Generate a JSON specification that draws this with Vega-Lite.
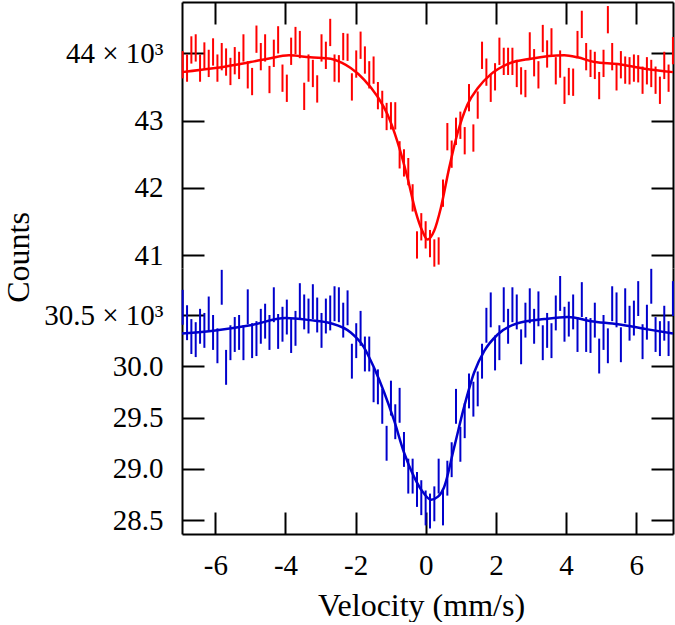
{
  "$schema": "https://vega.github.io/schema/vega-lite/v6.json",
  "background": "white",
  "padding": {"left": 2, "top": 1, "right": 1, "bottom": 1},
  "bounds": "flush",
  "spacing": 0,
  "config": {
    "font": "Liberation Serif",
    "view": {"stroke": null},
    "axis": {
      "domainColor": "black", "domainWidth": 2, "tickColor": "black", "tickWidth": 2, "tickSize": -22,
      "labelColor": "black", "labelFontSize": 29, "labelFont": "Liberation Serif",
      "titleFontSize": 32, "titleColor": "black", "titleFontWeight": "normal", "titleFont": "Liberation Serif",
      "grid": false
    }
  },
  "datasets": {
    "red": [
      {"v":-6.930,"c":43830,"e":203},{"v":-6.806,"c":43780,"e":203},{"v":-6.683,"c":44050,"e":203},{"v":-6.559,"c":44080,"e":203},{"v":-6.435,"c":43780,"e":203},{"v":-6.312,"c":43960,"e":203},{"v":-6.188,"c":43850,"e":203},{"v":-6.064,"c":44020,"e":203},{"v":-5.940,"c":43780,"e":203},{"v":-5.817,"c":43950,"e":203},
      {"v":-5.693,"c":43870,"e":203},{"v":-5.569,"c":43730,"e":203},{"v":-5.446,"c":43890,"e":203},{"v":-5.322,"c":43820,"e":203},{"v":-5.198,"c":44080,"e":203},{"v":-5.075,"c":43680,"e":203},{"v":-4.951,"c":43580,"e":203},{"v":-4.827,"c":44210,"e":203},{"v":-4.703,"c":43950,"e":203},{"v":-4.580,"c":44080,"e":203},
      {"v":-4.456,"c":43610,"e":203},{"v":-4.332,"c":44000,"e":203},{"v":-4.209,"c":44200,"e":203},{"v":-4.085,"c":43630,"e":203},{"v":-3.961,"c":43480,"e":203},{"v":-3.838,"c":44030,"e":203},{"v":-3.714,"c":44190,"e":203},{"v":-3.590,"c":44130,"e":203},{"v":-3.466,"c":43360,"e":203},{"v":-3.343,"c":43780,"e":203},
      {"v":-3.219,"c":43700,"e":203},{"v":-3.095,"c":43470,"e":203},{"v":-2.972,"c":44080,"e":203},{"v":-2.848,"c":43970,"e":203},{"v":-2.724,"c":44310,"e":203},{"v":-2.601,"c":43780,"e":203},{"v":-2.477,"c":43770,"e":203},{"v":-2.353,"c":44100,"e":203},{"v":-2.229,"c":44090,"e":203},{"v":-2.106,"c":43500,"e":203},
      {"v":-1.982,"c":43840,"e":203},{"v":-1.858,"c":44120,"e":203},{"v":-1.735,"c":43900,"e":203},{"v":-1.611,"c":43680,"e":203},{"v":-1.487,"c":43750,"e":203},{"v":-1.364,"c":43370,"e":203},{"v":-1.240,"c":43240,"e":203},{"v":-1.116,"c":43060,"e":203},{"v":-0.992,"c":43070,"e":203},{"v":-0.869,"c":43070,"e":203},
      {"v":-0.745,"c":42490,"e":203},{"v":-0.621,"c":42370,"e":203},{"v":-0.498,"c":42240,"e":203},{"v":-0.374,"c":41850,"e":203},{"v":-0.250,"c":41150,"e":203},{"v":-0.127,"c":41420,"e":203},{"v":-0.003,"c":41300,"e":203},{"v":0.121,"c":41170,"e":203},{"v":0.245,"c":41030,"e":203},{"v":0.368,"c":41060,"e":203},
      {"v":0.492,"c":41920,"e":203},{"v":0.616,"c":42760,"e":203},{"v":0.739,"c":42500,"e":203},{"v":0.863,"c":42840,"e":203},{"v":0.987,"c":42930,"e":203},{"v":1.111,"c":42700,"e":203},{"v":1.234,"c":43340,"e":203},{"v":1.358,"c":42740,"e":203},{"v":1.482,"c":43230,"e":203},{"v":1.605,"c":43970,"e":203},
      {"v":1.729,"c":43720,"e":203},{"v":1.853,"c":43480,"e":203},{"v":1.976,"c":43650,"e":203},{"v":2.100,"c":44030,"e":203},{"v":2.224,"c":43880,"e":203},{"v":2.348,"c":43880,"e":203},{"v":2.471,"c":43880,"e":203},{"v":2.595,"c":43700,"e":203},{"v":2.719,"c":43590,"e":203},{"v":2.842,"c":43550,"e":203},
      {"v":2.966,"c":44110,"e":203},{"v":3.090,"c":43860,"e":203},{"v":3.213,"c":43680,"e":203},{"v":3.337,"c":44220,"e":203},{"v":3.461,"c":43990,"e":203},{"v":3.585,"c":44170,"e":203},{"v":3.708,"c":43740,"e":203},{"v":3.832,"c":43840,"e":203},{"v":3.956,"c":43450,"e":203},{"v":4.079,"c":43580,"e":203},
      {"v":4.203,"c":43570,"e":203},{"v":4.327,"c":44130,"e":203},{"v":4.450,"c":44430,"e":203},{"v":4.574,"c":43950,"e":203},{"v":4.698,"c":43850,"e":203},{"v":4.821,"c":43820,"e":203},{"v":4.945,"c":43520,"e":203},{"v":5.069,"c":43850,"e":203},{"v":5.193,"c":44500,"e":203},{"v":5.316,"c":43950,"e":203},
      {"v":5.440,"c":43650,"e":203},{"v":5.564,"c":43830,"e":203},{"v":5.687,"c":43750,"e":203},{"v":5.811,"c":43740,"e":203},{"v":5.935,"c":43780,"e":203},{"v":6.058,"c":43770,"e":203},{"v":6.182,"c":43600,"e":203},{"v":6.306,"c":43740,"e":203},{"v":6.430,"c":43700,"e":203},{"v":6.553,"c":43600,"e":203},
      {"v":6.677,"c":43450,"e":203},{"v":6.801,"c":43820,"e":203},{"v":6.924,"c":43630,"e":203},{"v":7.048,"c":44040,"e":203}
    ],
    "blue": [
      {"v":-6.930,"c":30575,"e":170},{"v":-6.806,"c":30425,"e":170},{"v":-6.683,"c":30290,"e":170},{"v":-6.559,"c":30260,"e":170},{"v":-6.435,"c":30390,"e":170},{"v":-6.312,"c":30350,"e":170},{"v":-6.188,"c":30510,"e":170},{"v":-6.064,"c":30330,"e":170},{"v":-5.940,"c":30200,"e":170},{"v":-5.817,"c":30770,"e":170},
      {"v":-5.693,"c":29990,"e":170},{"v":-5.569,"c":30230,"e":170},{"v":-5.446,"c":30310,"e":170},{"v":-5.322,"c":30330,"e":170},{"v":-5.198,"c":30230,"e":170},{"v":-5.075,"c":30580,"e":170},{"v":-4.951,"c":30250,"e":170},{"v":-4.827,"c":30270,"e":170},{"v":-4.703,"c":30390,"e":170},{"v":-4.580,"c":30440,"e":170},
      {"v":-4.456,"c":30330,"e":170},{"v":-4.332,"c":30600,"e":170},{"v":-4.209,"c":30340,"e":170},{"v":-4.085,"c":30410,"e":170},{"v":-3.961,"c":30480,"e":170},{"v":-3.838,"c":30300,"e":170},{"v":-3.714,"c":30370,"e":170},{"v":-3.590,"c":30640,"e":170},{"v":-3.466,"c":30530,"e":170},{"v":-3.343,"c":30490,"e":170},
      {"v":-3.219,"c":30630,"e":170},{"v":-3.095,"c":30500,"e":170},{"v":-2.972,"c":30350,"e":170},{"v":-2.848,"c":30490,"e":170},{"v":-2.724,"c":30520,"e":170},{"v":-2.601,"c":30610,"e":170},{"v":-2.477,"c":30600,"e":170},{"v":-2.353,"c":30450,"e":170},{"v":-2.229,"c":30570,"e":170},{"v":-2.106,"c":30050,"e":170},
      {"v":-1.982,"c":30250,"e":170},{"v":-1.858,"c":30370,"e":170},{"v":-1.735,"c":30120,"e":170},{"v":-1.611,"c":30120,"e":170},{"v":-1.487,"c":29820,"e":170},{"v":-1.364,"c":29800,"e":170},{"v":-1.240,"c":29610,"e":170},{"v":-1.116,"c":29250,"e":170},{"v":-0.992,"c":29690,"e":170},{"v":-0.869,"c":29460,"e":170},
      {"v":-0.745,"c":29620,"e":170},{"v":-0.621,"c":29190,"e":170},{"v":-0.498,"c":28930,"e":170},{"v":-0.374,"c":28930,"e":170},{"v":-0.250,"c":28800,"e":170},{"v":-0.127,"c":28720,"e":170},{"v":-0.003,"c":28620,"e":170},{"v":0.121,"c":28590,"e":170},{"v":0.245,"c":28660,"e":170},{"v":0.368,"c":28930,"e":170},
      {"v":0.492,"c":28620,"e":170},{"v":0.616,"c":28910,"e":170},{"v":0.739,"c":29090,"e":170},{"v":0.863,"c":29610,"e":170},{"v":0.987,"c":29240,"e":170},{"v":1.111,"c":29470,"e":170},{"v":1.234,"c":29760,"e":170},{"v":1.358,"c":29680,"e":170},{"v":1.482,"c":29780,"e":170},{"v":1.605,"c":30050,"e":170},
      {"v":1.729,"c":30400,"e":170},{"v":1.853,"c":30550,"e":170},{"v":1.976,"c":30130,"e":170},{"v":2.100,"c":30230,"e":170},{"v":2.224,"c":30600,"e":170},{"v":2.348,"c":30390,"e":170},{"v":2.471,"c":30600,"e":170},{"v":2.595,"c":30530,"e":170},{"v":2.719,"c":30190,"e":170},{"v":2.842,"c":30450,"e":170},
      {"v":2.966,"c":30590,"e":170},{"v":3.090,"c":30390,"e":170},{"v":3.213,"c":30560,"e":170},{"v":3.337,"c":30230,"e":170},{"v":3.461,"c":30350,"e":170},{"v":3.585,"c":30250,"e":170},{"v":3.708,"c":30520,"e":170},{"v":3.832,"c":30710,"e":170},{"v":3.956,"c":30410,"e":170},{"v":4.079,"c":30460,"e":170},
      {"v":4.203,"c":30530,"e":170},{"v":4.327,"c":30310,"e":170},{"v":4.450,"c":30650,"e":170},{"v":4.574,"c":30310,"e":170},{"v":4.698,"c":30300,"e":170},{"v":4.821,"c":30450,"e":170},{"v":4.945,"c":30100,"e":170},{"v":5.069,"c":30330,"e":170},{"v":5.193,"c":30200,"e":170},{"v":5.316,"c":30610,"e":170},
      {"v":5.440,"c":30550,"e":170},{"v":5.564,"c":30210,"e":170},{"v":5.687,"c":30590,"e":170},{"v":5.811,"c":30420,"e":170},{"v":5.935,"c":30470,"e":170},{"v":6.058,"c":30660,"e":170},{"v":6.182,"c":30240,"e":170},{"v":6.306,"c":30430,"e":170},{"v":6.430,"c":30780,"e":170},{"v":6.553,"c":30310,"e":170},
      {"v":6.677,"c":30270,"e":170},{"v":6.801,"c":30420,"e":170},{"v":6.924,"c":30270,"e":170},{"v":7.048,"c":30660,"e":170}
    ],
    "redfit": [
      {"v":-6.95,"c":43720},{"v":-6.0,"c":43780},{"v":-5.0,"c":43870},{"v":-4.5,"c":43920},{"v":-3.9,"c":43970},{"v":-3.3,"c":43940},{"v":-2.71,"c":43920},{"v":-2.4,"c":43860},{"v":-2.14,"c":43780},{"v":-1.76,"c":43610},{"v":-1.38,"c":43360},{"v":-1.09,"c":43090},{"v":-0.81,"c":42690},{"v":-0.52,"c":42150},{"v":-0.29,"c":41650},{"v":-0.10,"c":41360},{"v":0.05,"c":41230},{"v":0.24,"c":41360},{"v":0.43,"c":41700},{"v":0.67,"c":42300},{"v":0.90,"c":42800},{"v":1.19,"c":43240},{"v":1.48,"c":43480},{"v":1.86,"c":43690},{"v":2.33,"c":43840},{"v":3.0,"c":43920},{"v":3.95,"c":43970},{"v":4.33,"c":43940},{"v":4.81,"c":43870},{"v":5.48,"c":43840},{"v":6.24,"c":43770},{"v":7.05,"c":43720}
    ],
    "bluefit": [
      {"v":-6.95,"c":30320},{"v":-6.0,"c":30350},{"v":-5.0,"c":30400},{"v":-4.0,"c":30470},{"v":-3.3,"c":30450},{"v":-2.71,"c":30420},{"v":-2.14,"c":30330},{"v":-1.77,"c":30190},{"v":-1.48,"c":29990},{"v":-1.19,"c":29750},{"v":-0.90,"c":29470},{"v":-0.62,"c":29160},{"v":-0.33,"c":28920},{"v":-0.05,"c":28760},{"v":0.15,"c":28700},{"v":0.35,"c":28730},{"v":0.52,"c":28820},{"v":0.81,"c":29210},{"v":1.09,"c":29600},{"v":1.38,"c":29940},{"v":1.67,"c":30150},{"v":2.05,"c":30310},{"v":2.62,"c":30420},{"v":3.38,"c":30460},{"v":4.05,"c":30480},{"v":4.71,"c":30440},{"v":5.48,"c":30410},{"v":6.33,"c":30360},{"v":7.05,"c":30320}
    ]
  },
  "vconcat": [
    {
      "width": 491, "height": 266,
      "layer": [
        {
          "data": {"name": "red"},
          "mark": {"type": "errorbar", "color": "#ff0000", "thickness": 2},
          "encoding": {
            "x": {"field": "v", "type": "quantitative", "scale": {"domain": [-6.95, 7.05], "nice": false, "zero": false},
                  "axis": {"orient": "top", "values": [-6,-4,-2,0,2,4,6], "labels": false, "title": null}},
            "y": {"field": "c", "type": "quantitative", "scale": {"domain": [40807, 44763], "nice": false, "zero": false},
                  "axis": {"orient": "left", "values": [41000,42000,43000,44000], "labelPadding": 41,
                           "labelExpr": "datum.value == 44000 ? '44 × 10³' : format(datum.value / 1000, 'd')",
                           "title": "Counts", "titleX": -164, "titleY": 255, "titleBaseline": "middle", "titleAlign": "center", "titleAngle": 270}},
            "yError": {"field": "e"}
          }
        },
        {
          "data": {"name": "redfit"},
          "mark": {"type": "line", "color": "#ff0000", "strokeWidth": 2.5, "interpolate": "monotone"},
          "encoding": {
            "x": {"field": "v", "type": "quantitative", "scale": {"domain": [-6.95, 7.05], "nice": false, "zero": false},
                  "axis": {"orient": "top", "values": [-6,-4,-2,0,2,4,6], "labels": false, "title": null}},
            "y": {"field": "c", "type": "quantitative", "scale": {"domain": [40807, 44763], "nice": false, "zero": false},
                  "axis": {"orient": "right", "values": [41000,42000,43000,44000], "labels": false, "title": null}}
          }
        }
      ],
      "resolve": {"axis": {"y": "independent"}}
    },
    {
      "width": 491, "height": 266,
      "layer": [
        {
          "data": {"name": "blue"},
          "mark": {"type": "errorbar", "color": "#0000cc", "thickness": 2},
          "encoding": {
            "x": {"field": "v", "type": "quantitative", "scale": {"domain": [-6.95, 7.05], "nice": false, "zero": false},
                  "axis": {"orient": "bottom", "values": [-6,-4,-2,0,2,4,6], "labelPadding": 39, "labelExpr": "'' + datum.value",
                           "title": "Velocity (mm/s)", "titleX": 239, "titleY": 81, "titleBaseline": "alphabetic", "titleAlign": "center"}},
            "y": {"field": "c", "type": "quantitative", "scale": {"domain": [28366, 30958], "nice": false, "zero": false},
                  "axis": {"orient": "left", "values": [28500,29000,29500,30000,30500], "labelPadding": 41,
                           "labelExpr": "datum.value == 30500 ? '30.5 × 10³' : format(datum.value / 1000, '.1f')", "title": null}},
            "yError": {"field": "e"}
          }
        },
        {
          "data": {"name": "bluefit"},
          "mark": {"type": "line", "color": "#0000cc", "strokeWidth": 2.5, "interpolate": "monotone"},
          "encoding": {
            "x": {"field": "v", "type": "quantitative", "scale": {"domain": [-6.95, 7.05], "nice": false, "zero": false},
                  "axis": {"orient": "bottom", "values": [-6,-4,-2,0,2,4,6], "labelPadding": 39, "labelExpr": "'' + datum.value",
                           "title": "Velocity (mm/s)", "titleX": 239, "titleY": 81, "titleBaseline": "alphabetic", "titleAlign": "center"}},
            "y": {"field": "c", "type": "quantitative", "scale": {"domain": [28366, 30958], "nice": false, "zero": false},
                  "axis": {"orient": "right", "values": [28500,29000,29500,30000,30500], "labels": false, "title": null}}
          }
        }
      ],
      "resolve": {"axis": {"y": "independent"}}
    }
  ]
}
